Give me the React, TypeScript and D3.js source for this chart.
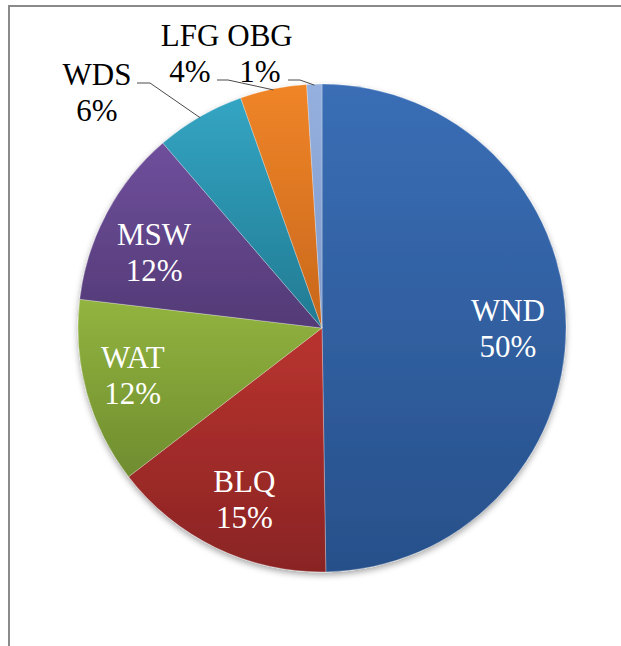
import React from 'react';
import * as d3 from 'd3';

// energy sources share
const categories = ['WND', 'BLQ', 'WAT', 'MSW', 'WDS', 'LFG', 'OBG'];
const shares = [49.7, 14.8, 12.3, 11.8, 5.9, 4.4, 1.0];
const topColors = ['#3a6eb6', '#b9332f', '#92b43f', '#6f4f9c', '#33a5c3', '#f08528', '#95b0de'];
const bottomColors = ['#27508a', '#8a2424', '#6f8d2f', '#533a76', '#227a92', '#c8671c', '#7e9acb'];
const outsideLabels = ['WDS', 'LFG', 'OBG'];

const width = 621;
const height = 646;
const cx = 322;
const cy = 328;
const radius = 244;
const fontSize = 31;
const lineGap = 36;
const serif = '"Times New Roman", "Liberation Serif", "DejaVu Serif", serif';

// small nudges so inside labels sit where the original put them
const labelNudge: Record<string, [number, number]> = {
  WND: [-2, 2],
  BLQ: [4, 3],
  WAT: [-8, -2],
  MSW: [-2, 13],
};

// outside labels: text centre + first baseline, then the leader stub
const outsidePos: Record<string, { x: number; y: number; x0: number; x1: number; ly: number }> = {
  WDS: { x: 97, y: 85, x0: 137, x1: 150, ly: 83 },
  LFG: { x: 190, y: 46, x0: 217, x1: 228, ly: 80 },
  OBG: { x: 260, y: 46, x0: 288, x1: 300, ly: 80 },
};

const App = () => {
  const total = d3.sum(shares);
  const pie = d3.pie<number>().sort(null).value(d => d);
  const arcs = pie(shares);
  const arc = d3.arc<d3.PieArcDatum<number>>().innerRadius(0).outerRadius(radius);
  const labelArc = d3.arc<d3.PieArcDatum<number>>().innerRadius(188).outerRadius(188);
  const edgeArc = d3.arc<d3.PieArcDatum<number>>().innerRadius(radius - 1).outerRadius(radius - 1);

  return (
    <svg width={width} height={height} style={{ position: 'absolute', left: 0, top: 0 }}>
      <defs>
        {categories.map((c, i) => (
          <linearGradient key={c} id={`g-${c}`} x1="0" y1="0" x2="0" y2="1">
            <stop offset="0%" stopColor={topColors[i]} />
            <stop offset="100%" stopColor={bottomColors[i]} />
          </linearGradient>
        ))}
        <filter id="shadow" x="-10%" y="-10%" width="120%" height="125%">
          <feDropShadow dx="0" dy="3" stdDeviation="3" floodColor="#000" floodOpacity="0.35" />
        </filter>
      </defs>
      <rect width={width} height={height} fill="#fff" />
      {/* chart frame, cut off at right and bottom */}
      <path d={`M9,${height} V6 H${width}`} fill="none" stroke="#8a8a8a" strokeWidth={2} />

      <g transform={`translate(${cx},${cy})`}>
        <g filter="url(#shadow)">
          {arcs.map((a, i) => (
            <path
              key={categories[i]}
              d={arc(a) || ''}
              fill={`url(#g-${categories[i]})`}
              stroke="#ffffff"
              strokeOpacity={0.35}
              strokeWidth={0.8}
            />
          ))}
        </g>

        {arcs.map((a, i) => {
          const name = categories[i];
          const pct = `${Math.round((shares[i] / total) * 100)}%`;
          if (outsideLabels.includes(name)) {
            const p = outsidePos[name];
            const [ex, ey] = edgeArc.centroid(a);
            return (
              <g key={name} style={{ fontFamily: serif }} fontSize={fontSize} fill="#000">
                <polyline
                  points={`${p.x0 - cx},${p.ly - cy} ${p.x1 - cx},${p.ly - cy} ${ex},${ey}`}
                  fill="none"
                  stroke="#4a4a4a"
                  strokeWidth={1}
                />
                <text x={p.x - cx} y={p.y - cy} textAnchor="middle">{name}</text>
                <text x={p.x - cx} y={p.y - cy + lineGap} textAnchor="middle">{pct}</text>
              </g>
            );
          }
          const [lx, ly] = labelArc.centroid(a);
          const [nx, ny] = labelNudge[name] || [0, 0];
          return (
            <g key={name} style={{ fontFamily: serif }} fontSize={fontSize} fill="#fff">
              <text x={lx + nx} y={ly + ny - 8} textAnchor="middle">{name}</text>
              <text x={lx + nx} y={ly + ny - 8 + lineGap} textAnchor="middle">{pct}</text>
            </g>
          );
        })}
      </g>
    </svg>
  );
};

export default App;
